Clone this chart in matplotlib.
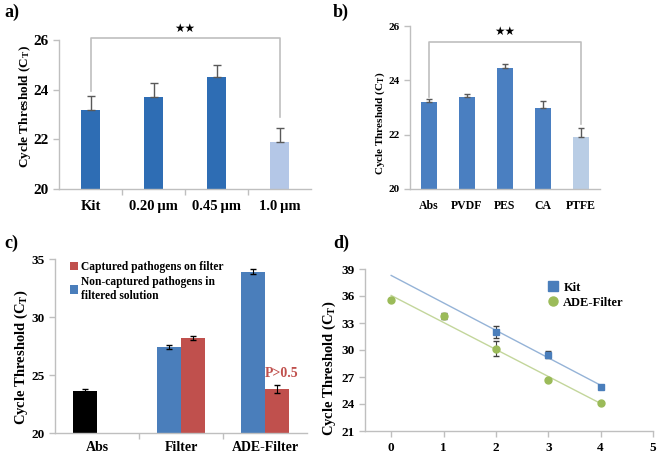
import matplotlib
matplotlib.use('Agg')
import matplotlib.pyplot as plt
import numpy as np

plt.rcParams['font.family'] = ['Liberation Serif', 'DejaVu Serif']
plt.rcParams['font.weight'] = 'bold'
plt.rcParams['axes.labelweight'] = 'bold'
plt.rcParams['mathtext.fontset'] = 'custom'
plt.rcParams['mathtext.rm'] = 'Liberation Serif:bold'
plt.rcParams['mathtext.it'] = 'Liberation Serif:bold'
plt.rcParams['mathtext.bf'] = 'Liberation Serif:bold'
plt.rcParams['mathtext.default'] = 'rm'

# panel a
a_labels = ['Kit', '0.20\u2009µm', '0.45\u2009µm', '1.0\u2009µm']
a_vals = [23.2, 23.7, 24.5, 21.9]
a_err = [0.55, 0.55, 0.5, 0.55]

# panel b
b_labels = ['Abs', 'PVDF', 'PES', 'CA', 'PTFE']
b_vals = [23.2, 23.4, 24.45, 23.0, 21.9]
b_err = [0.1, 0.1, 0.15, 0.25, 0.35]

# panel c
c_labels = ['Abs', 'Filter', 'ADE-Filter']
c_abs = 23.6
c_abs_err = 0.2
c_noncap = [27.4, 33.9]
c_noncap_err = [0.15, 0.2]
c_cap = [28.2, 23.8]
c_cap_err = [0.2, 0.35]

# panel d
kit_x = [2, 3, 4]
kit_y = [32.0, 29.5, 25.9]
kit_err = [0.7, 0.4, 0.1]
ade_x = [0, 1, 2, 3, 4]
ade_y = [35.6, 33.75, 30.15, 26.65, 24.15]
ade_err = [0.1, 0.35, 0.8, 0.1, 0.1]

W, H = 658, 458
fig = plt.figure(figsize=(W / 100, H / 100), dpi=100)
GRAY = '#bfbfbf'
YLAB = 'Cycle Threshold (C$_T$)'


def box(l, t, r, b):
    return fig.add_axes([l / W, 1 - b / H, (r - l) / W, (b - t) / H])


def style(ax, ysize, xsize):
    for s in ['top', 'right']:
        ax.spines[s].set_visible(False)
    for s in ['left', 'bottom']:
        ax.spines[s].set_color(GRAY)
        ax.spines[s].set_linewidth(1)
    ax.tick_params(axis='y', colors=GRAY, labelcolor='black', labelsize=ysize, length=4, width=1)
    ax.tick_params(axis='x', colors=GRAY, labelcolor='black', labelsize=xsize, length=4, width=1)


def cat_axis(ax, n):
    ax.set_xlim(-0.5, n - 0.5)
    ax.set_xticks(np.arange(n - 1) + 0.5, minor=True)
    ax.tick_params(axis='x', which='major', length=0, pad=8)
    ax.tick_params(axis='x', which='minor', length=4, colors=GRAY, width=1)


def bracket(ax, x0, x1, y, y0, y1, star_y, size):
    ax.plot([x0, x0, x1, x1], [y0, y, y, y1], color=GRAY, lw=1.2, clip_on=False)
    ax.text((x0 + x1) / 2, star_y, '★★', ha='center', va='center',
            fontsize=size, family='DejaVu Sans', clip_on=False)


# ---- a)
ax = box(59, 40, 311, 189)
xa = np.arange(len(a_vals))
ax.bar(xa, a_vals, width=0.3, color=['#2e6db4'] * 3 + ['#b4c7e7'],
       yerr=[np.zeros(4), a_err], error_kw=dict(ecolor='#595959', capsize=3, lw=1))
ax.set_ylim(20, 26)
ax.set_yticks([20, 22, 24, 26])
ax.set_xticks(xa)
ax.set_xticklabels(a_labels)
style(ax, 11, 10.5)
cat_axis(ax, 4)
ax.set_ylabel(YLAB, fontsize=9.5)
ax.yaxis.set_label_coords(-0.103, 0.55)
bracket(ax, 0, 3, 26.07, 23.95, 22.9, 26.45, 8.5)
fig.text(4 / W, 1 - 12 / H, 'a)', fontsize=13, va='center')

# ---- b)
ax = box(410, 26, 600, 189)
xb = np.arange(len(b_vals))
ax.bar(xb, b_vals, width=0.4, color=['#4a7fc1'] * 4 + ['#b9cde5'],
       yerr=[np.zeros(5), b_err], error_kw=dict(ecolor='#595959', capsize=2.5, lw=1))
ax.set_ylim(20, 26)
ax.set_yticks([20, 22, 24, 26])
ax.set_xticks(xb)
ax.set_xticklabels(b_labels)
style(ax, 8, 8.5)
cat_axis(ax, 5)
ax.tick_params(axis='x', which='minor', length=0)
ax.set_ylabel(YLAB, fontsize=8)
ax.yaxis.set_label_coords(-0.121, 0.405)
bracket(ax, 0, 4, 25.4, 23.37, 22.4, 25.8, 8.5)
fig.text(333 / W, 1 - 12 / H, 'b)', fontsize=13, va='center')

# ---- c)
ax = box(55, 259, 307, 433)
w = 0.286
ax.bar(0 - w / 2, c_abs, width=w, color='black',
       yerr=c_abs_err, error_kw=dict(ecolor='black', capsize=2.5, lw=0.8))
xc = np.array([1, 2])
b2 = ax.bar(xc - w / 2, c_noncap, width=w, color='#4a7ebb',
            yerr=c_noncap_err, error_kw=dict(ecolor='black', capsize=2.5, lw=0.8))
b1 = ax.bar(xc + w / 2, c_cap, width=w, color='#c0504d',
            yerr=c_cap_err, error_kw=dict(ecolor='black', capsize=2.5, lw=0.8))
ax.set_ylim(20, 35)
ax.set_yticks([20, 25, 30, 35])
ax.set_xticks(np.arange(3))
ax.set_xticklabels(c_labels)
style(ax, 9.5, 10)
cat_axis(ax, 3)
ax.tick_params(axis='x', which='major', pad=6)
ax.set_ylabel(YLAB, fontsize=10.5)
ax.yaxis.set_label_coords(-0.099, 0.437)
ax.text(2 + w / 2 + 0.06, 24.55, 'P>0.5', color='#c0504d', fontsize=10, ha='center', va='bottom')
ax.legend([b1, b2], ['Captured pathogens on filter', 'Non-captured pathogens in\nfiltered solution'],
          loc='upper left', bbox_to_anchor=(0.035, 1.02), frameon=False, fontsize=8.3,
          handlelength=0.7, handleheight=0.7, handletextpad=0.3, labelspacing=0.25,
          borderpad=0)
fig.text(4 / W, 1 - 243 / H, 'c)', fontsize=13, va='center')

# ---- d)
ax = box(365, 269, 653, 431)
kx = np.array(kit_x)
ax_ = np.array(ade_x)
kfit = np.polyfit(kx, kit_y, 1)
afit = np.polyfit(ax_, ade_y, 1)
xs = np.array([0, 4])
ax.plot(xs, np.polyval(kfit, xs), color='#95b3d7', lw=1)
ax.plot(xs, np.polyval(afit, xs), color='#c3d69b', lw=1)
ax.errorbar(kx, kit_y, yerr=kit_err, fmt='s', color='#4a7ebb', ms=5,
            ecolor='#404040', capsize=2.5, elinewidth=0.8, label='Kit')
ax.errorbar(ax_, ade_y, yerr=ade_err, fmt='o', color='#9bbb59', ms=5,
            ecolor='#404040', capsize=2.5, elinewidth=0.8, label='ADE-Filter')
ax.set_xlim(-0.5, 5)
ax.set_ylim(21, 39)
ax.set_yticks(np.arange(21, 40, 3))
ax.set_xticks(np.arange(0, 6))
style(ax, 9.5, 9.5)
ax.tick_params(axis='x', pad=4)
ax.set_ylabel(YLAB, fontsize=10.5)
ax.yaxis.set_label_coords(-0.094, 0.39)
h, l = ax.get_legend_handles_labels()
h = [hh[0] for hh in h]
ax.legend(h, l, loc='upper left', bbox_to_anchor=(0.615, 0.96), frameon=False, fontsize=9,
          handlelength=0.8, handletextpad=0.4, labelspacing=0.25, borderpad=0, markerscale=1.3)
fig.text(333 / W, 1 - 243 / H, 'd)', fontsize=13, va='center')

fig.savefig('out.png', dpi=100)
